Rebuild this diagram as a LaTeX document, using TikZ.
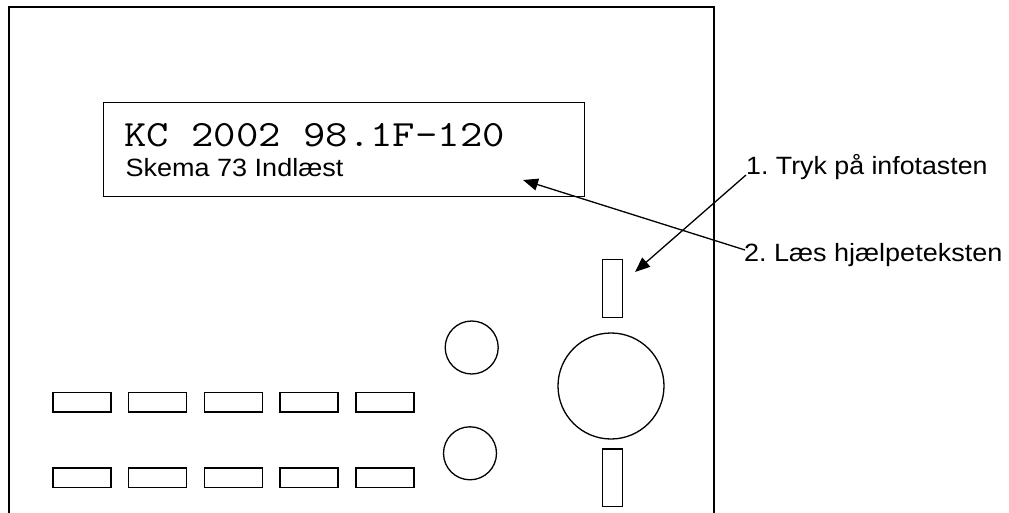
\documentclass[tikz,border=0pt]{standalone}
\usepackage{fontspec}
\setmainfont{Liberation Sans}
\usetikzlibrary{arrows.meta}
\frenchspacing
\begin{document}
\begin{tikzpicture}[x=1pt,y=-1pt,
  outline/.style={draw=black,line width=1.4pt},
  key/.style={draw=black,line width=1.4pt,minimum width=58pt,minimum height=19.5pt,inner sep=0pt,anchor=north west},
  knob/.style={draw=black,line width=1.3pt,circle,inner sep=0pt},
  label/.style={inner sep=0pt,font=\fontsize{25}{30}\selectfont},
  pointer/.style={draw=black,line width=1.3pt,-{Triangle[length=15pt,width=12pt]}}]
\useasboundingbox (0,0) rectangle (1009,513);
% panel outline, open at the bottom
\draw[outline] (9,520) -- (9,7) -- (714,7) -- (714,520);
% display window
\node[draw=black,line width=1.4pt,inner sep=0pt,minimum width=481pt,minimum height=94pt,anchor=north west] (display) at (103,102) {};
\node[inner sep=0pt,anchor=base west,font=\ttfamily\fontsize{37}{40}\selectfont] (line1) at (124,146.7) {\scalebox{1.175}[1]{KC 2002 98.1F-120}};
\node[label,anchor=base west] (line2) at (125.5,176.7) {\scalebox{1.08}[1]{Skema 73 Indlæst}};
% key rows
\foreach \i in {0,...,4}{
  \node[key] (ka\i) at ({52.3+75.7*\i},391.7) {};
  \node[key] (kb\i) at ({52.3+75.7*\i},467.3) {};
}
% round buttons
\node[knob,minimum size=53pt] (c1) at (471.7,347.5) {};
\node[knob,minimum size=53pt] (c2) at (470,453.3) {};
\node[knob,minimum size=106pt] (wheel) at (611,386) {};
% info key and lower key
\node[key,minimum width=20pt,minimum height=57.7pt] (info) at (601.7,259) {};
\node[key,minimum width=20pt,minimum height=57.4pt] (lower) at (601.7,448.3) {};
% callouts
\node[label,anchor=base west] (l1) at (746,175) {\scalebox{1.07}[1]{1. Tryk på infotasten}};
\node[label,anchor=base west] (l2) at (744,261) {\scalebox{1.08}[1]{2. Læs hjælpeteksten}};
\coordinate (l2start) at (745,250);
\coordinate (infotip) at (635,272);
\coordinate (texttip) at (523,180);
\draw[pointer] (l1.base west) -- (infotip);
\draw[pointer] (l2start) -- (texttip);
\end{tikzpicture}
\end{document}
